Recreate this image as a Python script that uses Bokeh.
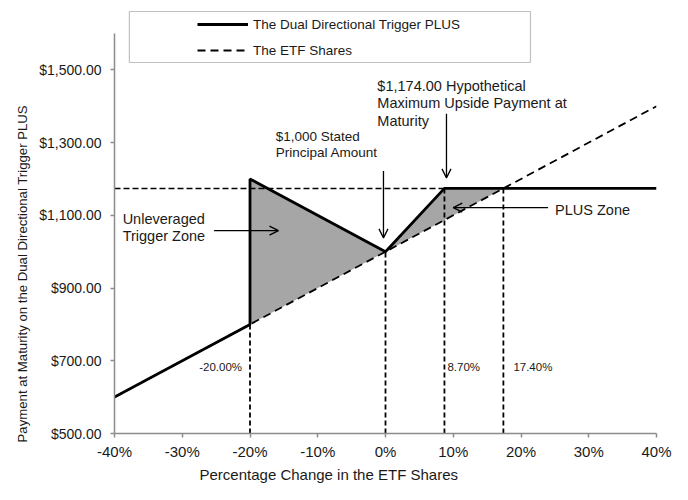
from bokeh.plotting import figure
from bokeh.models import (Range1d, FixedTicker, Label, Arrow, OpenHead, Legend,
                          LegendItem, BoxAnnotation, Title)
from bokeh.embed import file_html
from bokeh.resources import INLINE

# ---------------- data ----------------
x_ticks = [-40, -30, -20, -10, 0, 10, 20, 30, 40]
x_tick_labels = ["-40%", "-30%", "-20%", "-10%", "0%", "10%", "20%", "30%", "40%"]
y_ticks = [500, 700, 900, 1100, 1300, 1500]
y_tick_labels = ["$500.00", "$700.00", "$900.00", "$1,100.00", "$1,300.00", "$1,500.00"]

plus_pct = [-40, -20, -20, 0, 8.7, 40]
plus_pay = [600, 800, 1200, 1000, 1174, 1174]
etf_pct = [-40, 40]
etf_pay = [600, 1400]
trigger_zone_pct = [-20, 0, -20]
trigger_zone_pay = [1200, 1000, 800]
plus_zone_pct = [0, 8.7, 17.4]
plus_zone_pay = [1000, 1174, 1174]
cap_pct = [-40, 8.7]
cap_pay = [1174, 1174]
marker_pct = [-20, 0, 8.7, 17.4]
marker_pay = [800, 1000, 1174, 1174]
marker_label_pct = [-20, 8.7, 17.4]
marker_labels = ["-20.00%", "8.70%", "17.40%"]

FONT = "Liberation Sans"
TXT = "#1a1a1a"
AXC = "#8c8c8c"

p = figure(width=672, height=484, output_backend="svg", toolbar_location=None,
           x_range=Range1d(-40, 40), y_range=Range1d(500, 1690.75),
           min_border_left=114, min_border_right=16, min_border_top=0,
           min_border_bottom=51, background_fill_color="white",
           border_fill_color="white")
p.outline_line_color = None
p.xgrid.visible = False
p.ygrid.visible = False

# axes
p.xaxis.ticker = FixedTicker(ticks=x_ticks)
p.xaxis.major_label_overrides = dict(zip(x_ticks, x_tick_labels))
p.yaxis.ticker = FixedTicker(ticks=y_ticks)
p.yaxis.major_label_overrides = dict(zip(y_ticks, y_tick_labels))
p.yaxis.bounds = (500, 1600)
for ax in (p.xaxis, p.yaxis):
    ax.axis_line_color = AXC
    ax.axis_line_width = 1.5
    ax.major_tick_line_color = AXC
    ax.major_tick_line_width = 1.5
    ax.major_tick_in = 0
    ax.major_tick_out = 4
    ax.minor_tick_line_color = None
    ax.major_label_text_font = FONT
    ax.major_label_text_color = TXT
p.xaxis.major_label_text_font_size = "15px"
p.yaxis.major_label_text_font_size = "14px"
p.xaxis.major_label_standoff = 5
p.yaxis.major_label_standoff = 9

# axis titles
p.add_layout(Title(text="Percentage Change in the ETF Shares", align="left", offset=85,
                   standoff=2, text_font=FONT, text_font_size="15px",
                   text_font_style="normal", text_color=TXT), "below")
p.add_layout(Title(text="Payment at Maturity on the Dual Directional Trigger PLUS",
                   align="left", offset=-9, standoff=14, text_font=FONT,
                   text_font_size="13.2px", text_font_style="normal",
                   text_color=TXT), "left")

# zones
p.patch(trigger_zone_pct, trigger_zone_pay, fill_color="#a6a6a6", line_color=None)
p.patch(plus_zone_pct, plus_zone_pay, fill_color="#a6a6a6", line_color=None)

# dashed reference lines
p.segment(x0=marker_pct, y0=[y_ticks[0]] * len(marker_pct), x1=marker_pct, y1=marker_pay,
          line_color="black", line_width=1.8, line_dash="5 3")
p.line(cap_pct, cap_pay, line_color="black", line_width=1.5, line_dash="6 3")
r_etf = p.line(etf_pct, etf_pay, line_color="black", line_width=1.8, line_dash="8 5")
r_plus = p.line(plus_pct, plus_pay, line_color="black", line_width=2.8)

# marker labels
offsets = [-8, 3, 10]
aligns = ["right", "left", "left"]
for xv, t, off, al in zip(marker_label_pct, marker_labels, offsets, aligns):
    p.add_layout(Label(x=xv, y=684, text=t, x_offset=off, text_align=al,
                       text_baseline="middle", text_font=FONT,
                       text_font_size="11.5px", text_color=TXT))

# annotations
p.add_layout(Label(x=-16.2, y=1338, text="$1,000 Stated\nPrincipal Amount",
                   text_baseline="top", text_font=FONT, text_font_size="13.5px",
                   text_color=TXT, text_line_height=1.1))
p.add_layout(Label(x=-1.2, y=1478,
                   text="$1,174.00 Hypothetical\nMaximum Upside Payment at\nMaturity",
                   text_baseline="top", text_font=FONT, text_font_size="14.5px",
                   text_color=TXT, text_line_height=1.1))
p.add_layout(Label(x=-38.8, y=1113, text="Unleveraged\nTrigger Zone",
                   text_baseline="top", text_font=FONT, text_font_size="14.5px",
                   text_color=TXT, text_line_height=1.1))
p.add_layout(Label(x=24.0, y=1115, x_offset=7, text="PLUS Zone", text_baseline="middle",
                   text_font=FONT, text_font_size="14.5px", text_color=TXT))

arrows = [(-0.3, 1222, -0.3, 1038), (9.0, 1379, 9.0, 1203),
          (-25.3, 1058, -15.8, 1058), (24.0, 1121, 10.0, 1121)]
for xs, ys, xe, ye in arrows:
    p.add_layout(Arrow(end=OpenHead(size=9, line_width=1.3, line_color="black"),
                       x_start=xs, y_start=ys, x_end=xe, y_end=ye,
                       line_width=1.3, line_color="black"))

# legend frame
p.add_layout(BoxAnnotation(left=-37.8, right=21.4, bottom=1520.3, top=1660.5,
                           fill_color="white", fill_alpha=1.0,
                           line_color="#333333", line_width=1.2))
legend = Legend(items=[LegendItem(label="The Dual Directional Trigger PLUS", renderers=[r_plus]),
                       LegendItem(label="The ETF Shares", renderers=[r_etf])],
                location=(83, 373), padding=0, margin=0, spacing=6,
                glyph_width=51, glyph_height=20, label_height=20, label_standoff=5,
                label_text_font=FONT, label_text_font_size="13.5px",
                label_text_color=TXT, border_line_color=None,
                background_fill_alpha=0)
p.add_layout(legend)

open("out.html", "w").write(file_html(p, INLINE))
